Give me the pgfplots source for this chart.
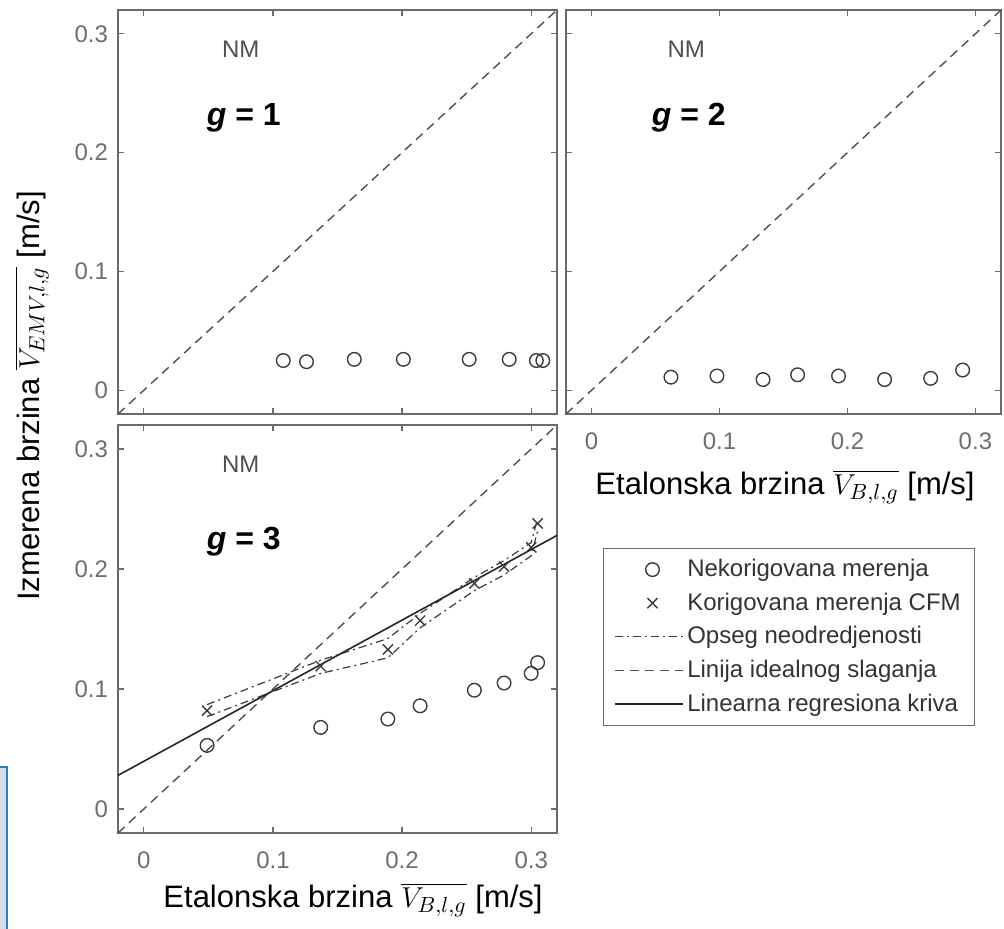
\documentclass[border=0pt]{standalone}
\usepackage{fontspec}
\setmainfont{Liberation Sans}
\usepackage{pgfplots}
\pgfplotsset{compat=1.18}

\definecolor{axgray}{HTML}{6A6A6A}
\definecolor{tickgray}{HTML}{6E6E6E}
\definecolor{mk}{HTML}{3C3C3C}
\definecolor{nmgray}{HTML}{505050}
\definecolor{boxblue}{HTML}{2E7EC4}
\definecolor{boxfill}{HTML}{D5DDE6}

\tikzset{
  nm/.style={font=\fontsize{12}{14}\selectfont, text=nmgray},
  gl/.style={font=\fontsize{16}{18}\selectfont\bfseries, text=black},
}

\pgfplotsset{
  panel/.style={
    scale only axis, width=219.5pt, height=202pt,
    xmin=-0.02, xmax=0.32, ymin=-0.02, ymax=0.32,
    xtick={0,0.1,0.2,0.3}, ytick={0,0.1,0.2,0.3},
    tick align=inside, major tick length=3pt,
    axis line style={axgray, line width=0.9pt},
    tick style={axgray, line width=0.6pt},
    ticklabel style={font=\fontsize{12}{14}\selectfont, text=tickgray},
    /pgf/number format/assume math mode=true,
    xticklabel style={yshift=-6pt},
    yticklabel style={xshift=-1.5pt},
  },
  raw/.style={only marks, mark=o, mark size=3.4pt, mk, mark options={line width=0.7pt}},
  cor/.style={only marks, mark=x, mark size=3.6pt, mk, mark options={line width=0.7pt}},
  ideal/.style={mk!90, line width=0.7pt, dash pattern=on 4.5pt off 3pt},
  band/.style={mk, line width=0.6pt, dash pattern=on 4pt off 2pt on 1pt off 2pt},
  regr/.style={black!85, line width=0.8pt},
  widemark/.style={legend image code/.code={\draw[mark repeat=2,mark phase=2,##1] plot coordinates {(0pt,0pt) (19pt,0pt) (38pt,0pt)};}},
  wideline/.style={legend image code/.code={\draw[##1] (0pt,0pt) -- (34pt,0pt);}},
}

\begin{document}
\begin{tikzpicture}
\useasboundingbox (0,0) rectangle (502pt,464pt);

% artefact box at left edge
\filldraw[fill=boxfill, draw=boxblue, line width=1.2pt] (-1pt,-1pt) rectangle (3.6pt,80.5pt);

% ---- panel g = 1 ----
\begin{axis}[panel, at={(59pt,257pt)}, anchor=south west, xticklabels={}]
\addplot[ideal] coordinates {(-0.02,-0.02) (0.32,0.32)};
\addplot[raw] coordinates {
(0.108,0.025) (0.126,0.024) (0.163,0.026) (0.201,0.026)
(0.252,0.026) (0.283,0.026) (0.304,0.025) (0.309,0.025)};
\node[nm] at (axis cs:0.075,0.287) {NM};
\node[gl] at (axis cs:0.0775,0.229) {\textit{g} = 1};
\end{axis}

% ---- panel g = 2 ----
\begin{axis}[panel, width=217.5pt, at={(283pt,257pt)}, anchor=south west, yticklabels={}]
\addplot[ideal] coordinates {(-0.02,-0.02) (0.32,0.32)};
\addplot[raw] coordinates {
(0.062,0.011) (0.098,0.012) (0.134,0.009) (0.161,0.013)
(0.193,0.012) (0.229,0.009) (0.265,0.010) (0.290,0.017)};
\node[nm] at (axis cs:0.074,0.287) {NM};
\node[gl] at (axis cs:0.076,0.229) {\textit{g} = 2};
\end{axis}

% ---- panel g = 3 ----
\begin{axis}[panel, height=204pt, at={(59pt,47.5pt)}, anchor=south west,
  legend style={at={(1.105,0.699)}, anchor=north west, draw=axgray, line width=0.6pt,
    fill=white, font=\fontsize{12}{14}\selectfont, text=black!80,
    inner xsep=5pt, inner ysep=3.5pt, row sep=2.6pt, text depth=0.5pt},
  legend cell align=left]
\addplot[raw, widemark] coordinates {
(0.049,0.053) (0.137,0.068) (0.189,0.075) (0.214,0.086)
(0.256,0.099) (0.279,0.105) (0.300,0.113) (0.305,0.122)};
\addlegendentry{Nekorigovana merenja}
\addplot[cor, widemark] coordinates {
(0.049,0.082) (0.137,0.119) (0.189,0.133) (0.214,0.157)
(0.256,0.188) (0.279,0.202) (0.300,0.218) (0.305,0.238)};
\addlegendentry{Korigovana merenja CFM}
\addplot[band, wideline] coordinates {
(0.049,0.087) (0.137,0.124) (0.189,0.142) (0.214,0.163)
(0.256,0.193) (0.279,0.207) (0.300,0.222) (0.305,0.242)};
\addlegendentry{Opseg neodredjenosti}
\addplot[band, forget plot] coordinates {
(0.049,0.077) (0.137,0.113) (0.189,0.126) (0.214,0.151)
(0.256,0.182) (0.279,0.195) (0.300,0.211) (0.305,0.232)};
\addplot[ideal, wideline] coordinates {(-0.02,-0.02) (0.32,0.32)};
\addlegendentry{Linija idealnog slaganja}
\addplot[regr, wideline] coordinates {(-0.02,0.028) (0.32,0.228)};
\addlegendentry{Linearna regresiona kriva}
\node[nm] at (axis cs:0.075,0.287) {NM};
\node[gl] at (axis cs:0.0775,0.223) {\textit{g} = 3};
\end{axis}

% ---- axis labels ----
\node[font=\fontsize{15.5}{18}\selectfont] at (176.5pt,14pt) {Etalonska brzina $\overline{V_{B,l,g}}$ [m/s]};
\node[font=\fontsize{15.5}{18}\selectfont] at (392.5pt,220.5pt) {Etalonska brzina $\overline{V_{B,l,g}}$ [m/s]};
\node[font=\fontsize{15.5}{18}\selectfont, rotate=90] at (16pt,266pt) {Izmerena brzina $\overline{V_{EMV,l,g}}$ [m/s]};
\end{tikzpicture}
\end{document}
